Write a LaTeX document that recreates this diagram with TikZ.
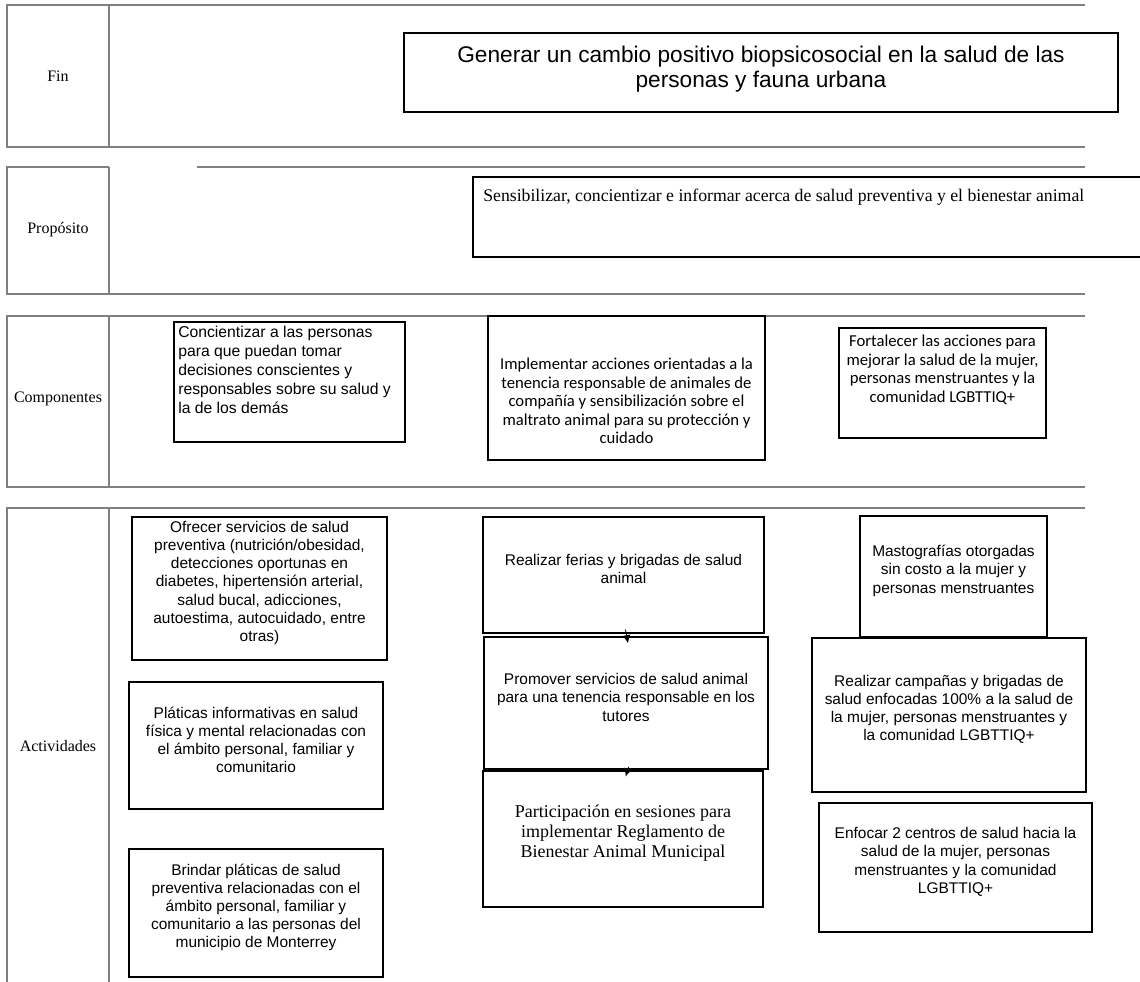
\documentclass[tikz,border=0pt]{standalone}
\usepackage{fontspec}
\setmainfont{Liberation Serif}
\newfontfamily\arialf{Liberation Sans}
\newfontfamily\calibrif{Carlito}
\usetikzlibrary{arrows.meta,positioning,fit,backgrounds}

\tikzset{
  band/.style={draw=black!50, line width=1.5pt},
  box/.style={draw=black, line width=0.8pt, inner sep=0pt, align=center},
  lbl/.style={font=\fontsize{12}{14}\selectfont},
  arialtxt/.style={font=\arialf\fontsize{11.6}{13.6}\selectfont},
  calitxt/.style={font=\calibrif\fontsize{12.5}{13.9}\selectfont, align=center, inner sep=0pt},
  serftxt/.style={font=\fontsize{13.5}{15}\selectfont},
  arr/.style={-{Latex[length=6pt,width=6pt]}, line width=0.6pt}
}

\begin{document}
\begin{tikzpicture}[x=0.75pt,y=-0.75pt]
\useasboundingbox (0,0) rectangle (1140,982);
\clip (0,0) rectangle (1140,982);

\draw[band] (1085,5) -- (7,5) -- (7,147) -- (1085,147);
\draw[band] (109,5) -- (109,147);
\draw[band] (197,167) -- (1085,167);
\draw[band] (109,167) -- (7,167) -- (7,294) -- (1085,294);
\draw[band] (109,167) -- (109,294);
\draw[band] (1085,316) -- (7,316) -- (7,487) -- (1085,487);
\draw[band] (109,316) -- (109,487);
\draw[band] (1085,508) -- (7,508) -- (7,990);
\draw[band] (109,508) -- (109,990);

\node[lbl] (finlbl) at (58,76) {Fin};
\node[lbl] (proplbl) at (58,230) {Propósito};
\node[lbl] (complbl) at (58,399) {Componentes};
\node[lbl] (actlbl) at (58,746) {Actividades};

\node[box, fit={(404,33)(1118,112)}] (finbox) {};
\node[align=center, inner sep=0pt, font=\arialf\fontsize{17}{19}\selectfont] (fintxt) at (761,69)
  {Generar un cambio positivo biopsicosocial en la salud de las\\personas y fauna urbana};

\node[box, fit={(473,177)(1160,257)}] (propbox) {};
\node[anchor=north west, inner sep=0pt, font=\fontsize{13.3}{15}\selectfont] (proptxt) at (483,189)
  {Sensibilizar, concientizar e informar acerca de salud preventiva y el bienestar animal};

\node[box, fit={(174,322)(405,442)}] (comp1) {};
\node[anchor=north west, inner sep=0pt, align=left, font=\arialf\fontsize{11.8}{14.2}\selectfont] (comp1txt) at (178,326)
  {Concientizar a las personas\\para que puedan tomar\\decisiones conscientes y\\responsables sobre su salud y\\la de los demás};
\node[box, fit={(488,316)(765,460)}] (comp2) {};
\node[calitxt] (comp2txt) at (626.5,401)
  {Implementar acciones orientadas a la\\tenencia responsable de animales de\\compañía y sensibilización sobre el\\maltrato animal para su protección y\\cuidado};
\node[box, fit={(839,328)(1046,438)}] (comp3) {};
\node[calitxt] (comp3txt) at (942.5,370)
  {Fortalecer las acciones para\\mejorar la salud de la mujer,\\personas menstruantes y la\\comunidad LGBTTIQ+};

\node[box, fit={(132,517)(387,660)}, arialtxt] (a1)
  {Ofrecer servicios de salud\\preventiva (nutrición/obesidad,\\detecciones oportunas en\\diabetes, hipertensión arterial,\\salud bucal, adicciones,\\autoestima, autocuidado, entre\\otras)};
\node[box, fit={(129,682)(383,809)}, arialtxt] (a2)
  {Pláticas informativas en salud\\física y mental relacionadas con\\el ámbito personal, familiar y\\comunitario};
\node[box, fit={(129,849)(383,977)}, arialtxt] (a3)
  {Brindar pláticas de salud\\preventiva relacionadas con el\\ámbito personal, familiar y\\comunitario a las personas del\\municipio de Monterrey};

\node[box, fit={(483,517)(764,633)}, arialtxt] (b1)
  {Realizar ferias y brigadas de salud\\animal};
\node[box, fit={(484,637)(768,769)}, arialtxt] (b2)
  {Promover servicios de salud animal\\para una tenencia responsable en los\\tutores};
\node[box, fit={(483,771)(763,907)}, serftxt] (b3)
  {Participación en sesiones para\\implementar Reglamento de\\Bienestar Animal Municipal};

\node[box, fit={(860,516)(1047,637)}, arialtxt] (c1)
  {Mastografías otorgadas\\sin costo a la mujer y\\personas menstruantes};
\node[box, fit={(812,638)(1086,792)}, arialtxt] (c2)
  {Realizar campañas y brigadas de\\salud enfocadas 100\% a la salud de\\la mujer, personas menstruantes y\\la comunidad LGBTTIQ+};
\node[box, fit={(819,803)(1092,932)}, arialtxt] (c3)
  {Enfocar 2 centros de salud hacia la\\salud de la mujer, personas\\menstruantes y la comunidad\\LGBTTIQ+};

\draw[arr] ([xshift=1.5pt,yshift=3pt]b1.south) -- ([xshift=1.5pt,yshift=-5pt]b2.north);
\draw[arr] ([xshift=2pt,yshift=2pt]b2.south) -- ([xshift=2pt,yshift=-4.5pt]b3.north);
\end{tikzpicture}
\end{document}
